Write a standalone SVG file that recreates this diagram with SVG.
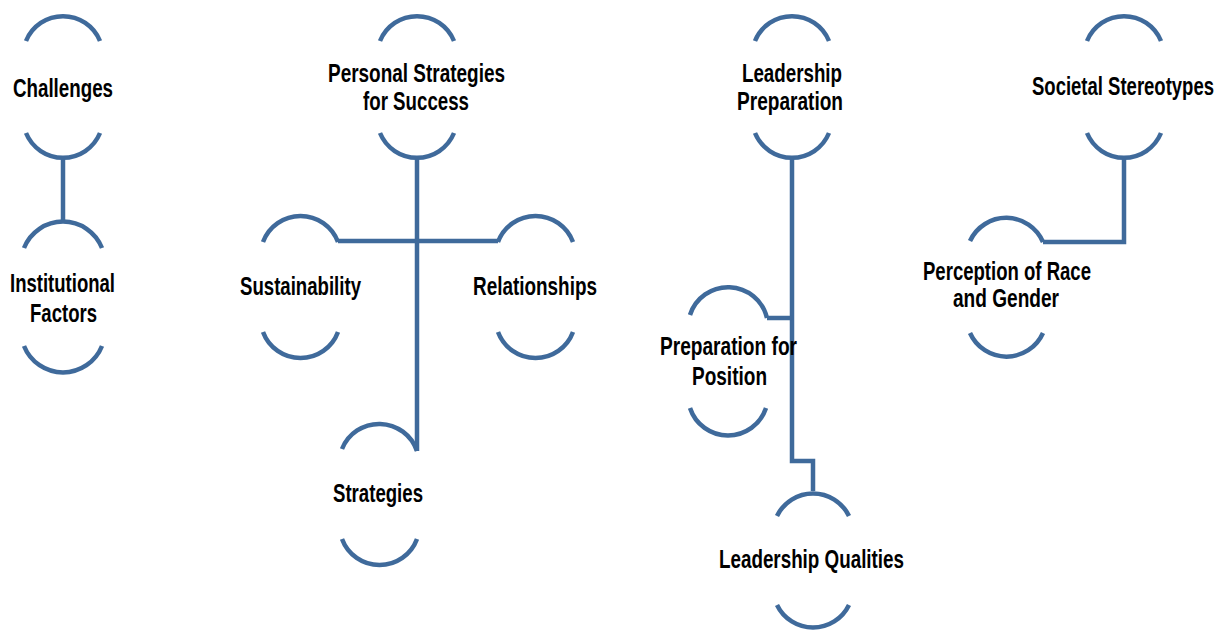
<svg xmlns="http://www.w3.org/2000/svg" width="1231" height="632" viewBox="0 0 1231 632">
<defs>
<style>
.arc{fill:none;stroke:#3F6A9B;stroke-width:4.5;stroke-linecap:butt}
.con{fill:none;stroke:#3F6A9B;stroke-width:4.5;stroke-linejoin:miter}
.t{font-family:"Liberation Sans",Arial,sans-serif;font-weight:bold;font-size:26px;fill:#000}
</style>
</defs>
<rect width="1231" height="632" fill="#fff"/>
<g id="connectors">
<path class="con" d="M63,157 V220"/>
<path class="con" d="M417,157 V451"/>
<path class="con" d="M338,241 H498"/>
<path class="con" d="M792,157 V461 H813 V491"/>
<path class="con" d="M767,318 H792"/>
<path class="con" d="M1124,157 V242 H1043"/>
</g>
<g id="node-challenges">
<path class="arc" d="M26,41 A40,40 0 0 1 100,41"/>
<path class="arc" d="M26,133 A40,40 0 0 0 100,133"/>
<text class="t" x="13" y="97" textLength="100" lengthAdjust="spacingAndGlyphs">Challenges</text>
</g>
<g id="node-institutional">
<path class="arc" d="M24,248 A42,42 0 0 1 102,248"/>
<path class="arc" d="M24,346 A42,42 0 0 0 102,346"/>
<text class="t" x="10" y="292" textLength="105" lengthAdjust="spacingAndGlyphs">Institutional</text>
<text class="t" x="30" y="322" textLength="67" lengthAdjust="spacingAndGlyphs">Factors</text>
</g>
<g id="node-personal">
<path class="arc" d="M380,41 A40,40 0 0 1 454,41"/>
<path class="arc" d="M380,133 A40,40 0 0 0 454,133"/>
<text class="t" x="328" y="82" textLength="177" lengthAdjust="spacingAndGlyphs">Personal Strategies</text>
<text class="t" x="363" y="110" textLength="106" lengthAdjust="spacingAndGlyphs">for Success</text>
</g>
<g id="node-sustainability">
<path class="arc" d="M263,242 A40,40 0 0 1 338,242"/>
<path class="arc" d="M263,332 A40,40 0 0 0 338,332"/>
<text class="t" x="240" y="295" textLength="121" lengthAdjust="spacingAndGlyphs">Sustainability</text>
</g>
<g id="node-relationships">
<path class="arc" d="M498,242 A40,40 0 0 1 573,242"/>
<path class="arc" d="M498,332 A40,40 0 0 0 573,332"/>
<text class="t" x="473" y="295" textLength="124" lengthAdjust="spacingAndGlyphs">Relationships</text>
</g>
<g id="node-strategies">
<path class="arc" d="M342,449 A40,40 0 0 1 417,451"/>
<path class="arc" d="M342,539 A40,40 0 0 0 417,539"/>
<text class="t" x="333" y="502" textLength="90" lengthAdjust="spacingAndGlyphs">Strategies</text>
</g>
<g id="node-leadership-prep">
<path class="arc" d="M755,41 A40,40 0 0 1 829,41"/>
<path class="arc" d="M755,133 A40,40 0 0 0 829,133"/>
<text class="t" x="742" y="82" textLength="100" lengthAdjust="spacingAndGlyphs">Leadership</text>
<text class="t" x="737" y="110" textLength="106" lengthAdjust="spacingAndGlyphs">Preparation</text>
</g>
<g id="node-prep-position">
<path class="arc" d="M690,315 A40,40 0 0 1 767,318"/>
<path class="arc" d="M690,408 A40,40 0 0 0 766,408"/>
<text class="t" x="660" y="355" textLength="137" lengthAdjust="spacingAndGlyphs">Preparation for</text>
<text class="t" x="692" y="385" textLength="75" lengthAdjust="spacingAndGlyphs">Position</text>
</g>
<g id="node-leadership-qual">
<path class="arc" d="M777,516 A40,40 0 0 1 849,516"/>
<path class="arc" d="M777,605 A40,40 0 0 0 849,605"/>
<text class="t" x="719" y="568" textLength="185" lengthAdjust="spacingAndGlyphs">Leadership Qualities</text>
</g>
<g id="node-societal">
<path class="arc" d="M1087,41 A40,40 0 0 1 1161,41"/>
<path class="arc" d="M1087,133 A40,40 0 0 0 1161,133"/>
<text class="t" x="1032" y="95" textLength="182" lengthAdjust="spacingAndGlyphs">Societal Stereotypes</text>
</g>
<g id="node-perception">
<path class="arc" d="M970,241 A40,40 0 0 1 1043,242"/>
<path class="arc" d="M970,333 A40,40 0 0 0 1043,333"/>
<text class="t" x="923" y="280" textLength="168" lengthAdjust="spacingAndGlyphs">Perception of Race</text>
<text class="t" x="953" y="307" textLength="106" lengthAdjust="spacingAndGlyphs">and Gender</text>
</g>
</svg>
